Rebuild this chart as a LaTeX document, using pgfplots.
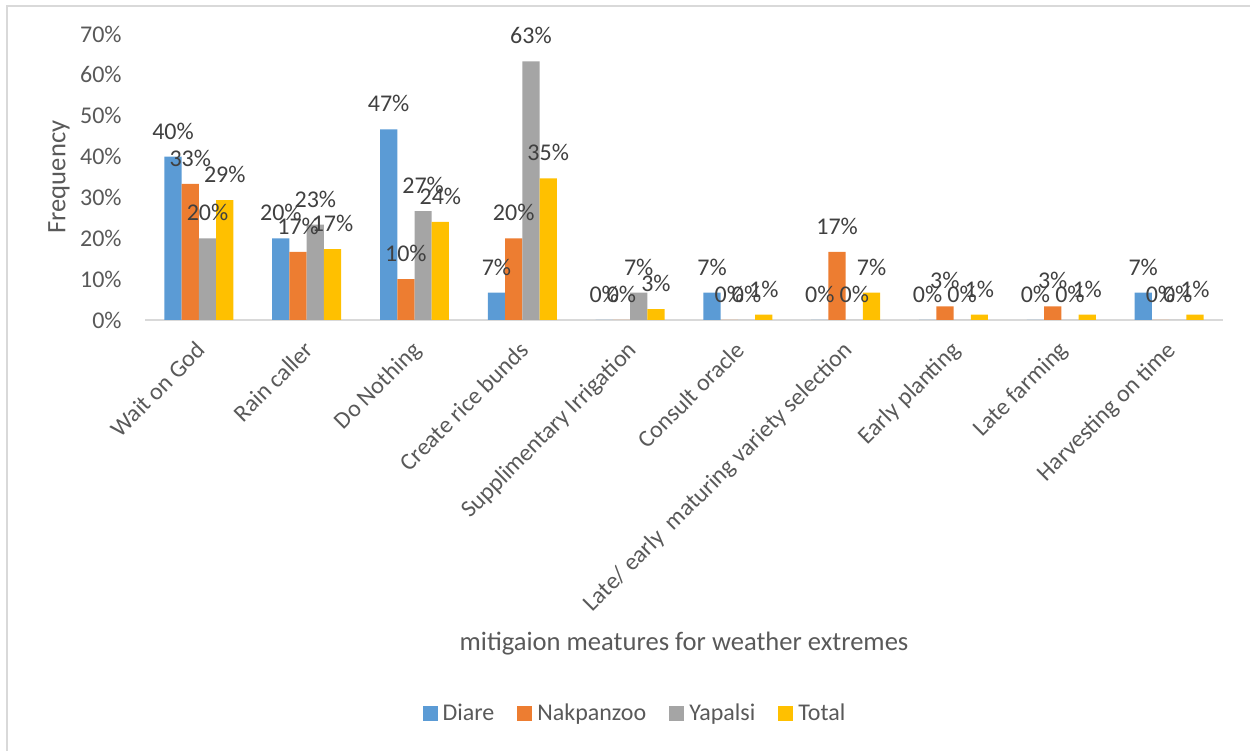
\documentclass[border=0pt]{standalone}
\usepackage{fontspec}
\setmainfont{Carlito}
\usepackage{pgfplots}
\usepackage{pgfplotstable}
\pgfplotsset{compat=1.18}
\definecolor{cDiare}{HTML}{5B9BD5}
\definecolor{cNak}{HTML}{ED7D31}
\definecolor{cYap}{HTML}{A5A5A5}
\definecolor{cTot}{HTML}{FFC000}
\definecolor{txt}{HTML}{595959}
\definecolor{lbl}{HTML}{404040}
\definecolor{gridc}{HTML}{D9D9D9}

\pgfplotstableread{
x Diare Nakpanzoo Yapalsi Total
0 40.00 33.33 20.00 29.33
1 20.00 16.67 23.33 17.33
2 46.67 10.00 26.67 24.00
3 6.67 20.00 63.33 34.67
4 0 0 6.67 2.67
5 6.67 0 0 1.33
6 0 16.67 0 6.67
7 0 3.33 0 1.33
8 0 3.33 0 1.33
9 6.67 0 0 1.33
}\datatable

\begin{document}
\begin{tikzpicture}
\useasboundingbox (0,0) rectangle (625bp,375.5bp);
\draw[gridc, line width=0.8bp] (3.5bp,-20bp) -- (3.5bp,372.5bp) -- (660bp,372.5bp);
\begin{axis}[
  at={(72.5bp,215.5bp)}, anchor=south west,
  scale only axis, width=539bp, height=143bp,
  xmin=-0.5, xmax=9.5, ymin=0, ymax=70,
  ybar=0pt, bar width=0.16,
  axis x line=bottom, axis y line=left,
  y axis line style={draw=none},
  x axis line style={gridc, line width=0.85bp, -},
  major tick length=0pt,
  xtick={0,...,9},
  xticklabels={Wait on God, Rain caller, Do Nothing, Create rice bunds, Supplimentary Irrigation, Consult oracle, Late/ early~~maturing variety selection, Early planting, Late farming, Harvesting on time},
  xticklabel style={xshift=-2bp, yshift=-5bp, rotate=45, anchor=north east, font=\fontsize{12bp}{14bp}\selectfont, text=txt},
  ytick={0,10,...,70},
  yticklabel={\pgfmathprintnumber{\tick}\%},
  yticklabel style={anchor=east, inner sep=0pt, xshift=-11.5bp, font=\fontsize{12bp}{14bp}\selectfont, text=txt},
  /pgf/number format/assume math mode=true,
  xlabel={mitigaion meatures for weather extremes},
  xlabel style={at={(axis description cs:0.5,-1.133)}, anchor=center, font=\fontsize{13.3bp}{15bp}\selectfont, text=txt},
  ylabel={Frequency},
  ylabel style={at={(axis description cs:-0.0798,0.5)}, anchor=center, rotate=0, font=\fontsize{13.3bp}{15bp}\selectfont, text=txt},
  nodes near coords={\pgfmathprintnumber[fixed,precision=0]{\pgfplotspointmeta}\%},
  every node near coord/.append style={anchor=base, yshift=8.7bp, font=\fontsize{12bp}{14bp}\selectfont, text=lbl, inner sep=0pt},
  legend columns=4,
  legend style={at={(axis description cs:0.4536,-1.3776)}, anchor=center, draw=none, fill=none,
    font=\fontsize{12bp}{14bp}\selectfont, text=txt,
    /tikz/every odd column/.append style={column sep=2.5bp},
    /tikz/every even column/.append style={column sep=11.5bp},
    nodes={inner sep=0pt}},
  legend image code/.code={\fill (0bp,-3.75bp) rectangle (7.5bp,3.75bp);},
]
\addplot[draw=none, fill=cDiare] table[x=x, y=Diare] {\datatable};
\addplot[draw=none, fill=cNak] table[x=x, y=Nakpanzoo] {\datatable};
\addplot[draw=none, fill=cYap] table[x=x, y=Yapalsi] {\datatable};
\addplot[draw=none, fill=cTot] table[x=x, y=Total] {\datatable};
\legend{Diare, Nakpanzoo, Yapalsi, Total}
\end{axis}
\end{tikzpicture}
\end{document}
